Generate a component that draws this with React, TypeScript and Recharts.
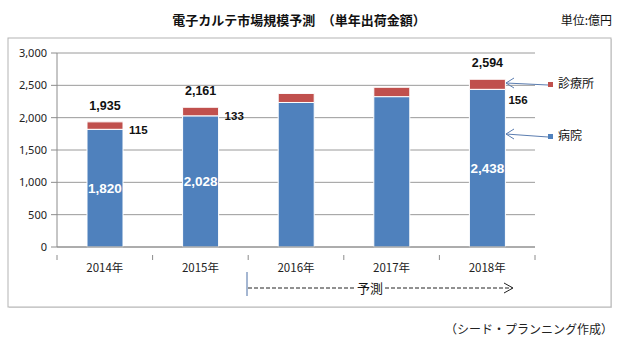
import React from "react";
import {
  BarChart,
  Bar,
  XAxis,
  YAxis,
  CartesianGrid,
  LabelList,
} from "recharts";

const years = ["2014年", "2015年", "2016年", "2017年", "2018年"];
const hospital = [1820, 2028, 2235, 2325, 2438];
const clinic = [115, 133, 140, 145, 156];
const labelled = [true, true, false, false, true];
const yTicks = [0, 500, 1000, 1500, 2000, 2500, 3000];

const BLUE = "#4F81BD";
const RED = "#C0504D";
const JP = '"Noto Sans CJK JP", "Noto Sans", sans-serif';
const NUM = '"Liberation Sans", Arial, sans-serif';
const AXIS = '"Noto Sans", "Liberation Sans", sans-serif';

const PLOT_LEFT = 57;
const PLOT_RIGHT = 535;
const BAND = (PLOT_RIGHT - PLOT_LEFT) / years.length;

const data = years.map((year, i) => ({
  year,
  hospital: hospital[i],
  clinic: clinic[i],
}));

const fmt = (v: number) => v.toLocaleString("en-US");

const XTick = (props: any) => {
  const { x, y, payload, index } = props;
  return (
    <g>
      <line x1={x - BAND / 2} y1={y} x2={x - BAND / 2} y2={y + 5} stroke="#8c8c8c" />
      {index === years.length - 1 && (
        <line x1={x + BAND / 2} y1={y} x2={x + BAND / 2} y2={y + 5} stroke="#8c8c8c" />
      )}
      <text x={x} y={y + 17} textAnchor="middle" fontSize={11.5} fontFamily={JP} fill="#222">
        {payload.value}
      </text>
    </g>
  );
};

const hospitalLabel = (props: any) => {
  const { x, y, width, height, index, value } = props;
  if (!labelled[index]) return null;
  return (
    <text
      x={x + width / 2}
      y={y + height / 2 + 5}
      textAnchor="middle"
      fontSize={13.5}
      fontWeight={600}
      fontFamily={NUM}
      fill="#fff"
    >
      {fmt(value)}
    </text>
  );
};

const clinicLabel = (props: any) => {
  const { x, y, width, height, index, value } = props;
  if (!labelled[index]) return null;
  const total = hospital[index] + clinic[index];
  const last = index === years.length - 1;
  return (
    <g fontFamily={NUM} fontWeight="bold" fill="#111">
      <text x={x + width / 2} y={y - 12} textAnchor="middle" fontSize={12.5}>
        {fmt(total)}
      </text>
      <text
        x={x + width + (last ? 3 : 6)}
        y={last ? y + height + 15 : y + height / 2 + 8}
        textAnchor="start"
        fontSize={11.5}
      >
        {value}
      </text>
    </g>
  );
};

export default function App() {
  return (
    <div
      style={{
        position: "absolute",
        left: 0,
        top: 0,
        width: 620,
        height: 342,
        background: "#fff",
      }}
    >
      <svg
        width={620}
        height={342}
        style={{ position: "absolute", left: 0, top: 0 }}
      >
        <rect x={9} y={39} width={603} height={269} fill="#a0a0a0" opacity={0.35} />
        <rect x={8} y={38} width={603} height={269} fill="#fff" stroke="#b4b4b4" />
      </svg>
      <div style={{ position: "absolute", left: 0, top: 0 }}>
        <BarChart
          width={620}
          height={342}
          data={data}
          margin={{ top: 53, right: 620 - PLOT_RIGHT, bottom: 65, left: 8 }}
          barSize={36}
        >
          <CartesianGrid vertical={false} stroke="#9a9a9a" />
          <XAxis
            dataKey="year"
            height={30}
            axisLine={{ stroke: "#8c8c8c" }}
            tickLine={false}
            tick={<XTick />}
            interval={0}
          />
          <YAxis
            width={49}
            domain={[0, 3000]}
            ticks={yTicks}
            tickFormatter={fmt}
            axisLine={{ stroke: "#8c8c8c" }}
            tickLine={{ stroke: "#8c8c8c" }}
            tickSize={6}
            tickMargin={4}
            tick={{ fontSize: 11, fontFamily: AXIS, fill: "#222" }}
          />
          <Bar dataKey="hospital" stackId="a" fill={BLUE} stroke="#fff" isAnimationActive={false}>
            <LabelList dataKey="hospital" content={hospitalLabel} />
          </Bar>
          <Bar dataKey="clinic" stackId="a" fill={RED} stroke="#fff" isAnimationActive={false}>
            <LabelList dataKey="clinic" content={clinicLabel} />
          </Bar>
        </BarChart>
      </div>
      <svg
        width={620}
        height={342}
        style={{ position: "absolute", left: 0, top: 0, pointerEvents: "none" }}
      >
        <text x={299} y={25} textAnchor="middle" fontSize={13} fontWeight="bold" fontFamily={JP} fill="#111">
          電子カルテ市場規模予測　（単年出荷金額）
        </text>
        <text x={612} y={25} textAnchor="end" fontSize={12} fontFamily={JP} fill="#111">
          単位:億円
        </text>

        <g stroke="#5b7db0" strokeWidth={1} fill="none">
          <line x1={506} y1={83} x2={548} y2={85} />
          <polyline points="514,78 506,83 514,88" />
          <line x1={506} y1={134} x2={548} y2={137} />
          <polyline points="514,129 506,134 514,139" />
        </g>
        <rect x={548} y={82} width={5} height={5} fill={RED} />
        <text x={558} y={88} fontSize={12} fontFamily={JP} fill="#111">
          診療所
        </text>
        <rect x={548} y={134} width={5} height={5} fill={BLUE} />
        <text x={558} y={140} fontSize={12} fontFamily={JP} fill="#111">
          病院
        </text>

        <line x1={247} y1={272} x2={247} y2={296} stroke="#4a6fa5" />
        <line x1={248} y1={288} x2={355} y2={288} stroke="#222" strokeDasharray="4 2" />
        <text x={370} y={293} textAnchor="middle" fontSize={13} fontFamily={JP} fill="#111">
          予測
        </text>
        <line x1={385} y1={288} x2={512} y2={288} stroke="#222" strokeDasharray="4 2" />
        <polyline points="504,283 513,288 504,293" stroke="#222" fill="none" />

        <text x={613} y={334} textAnchor="end" fontSize={12} fontFamily={JP} fill="#222">
          （シード・プランニング作成）
        </text>
      </svg>
    </div>
  );
}
